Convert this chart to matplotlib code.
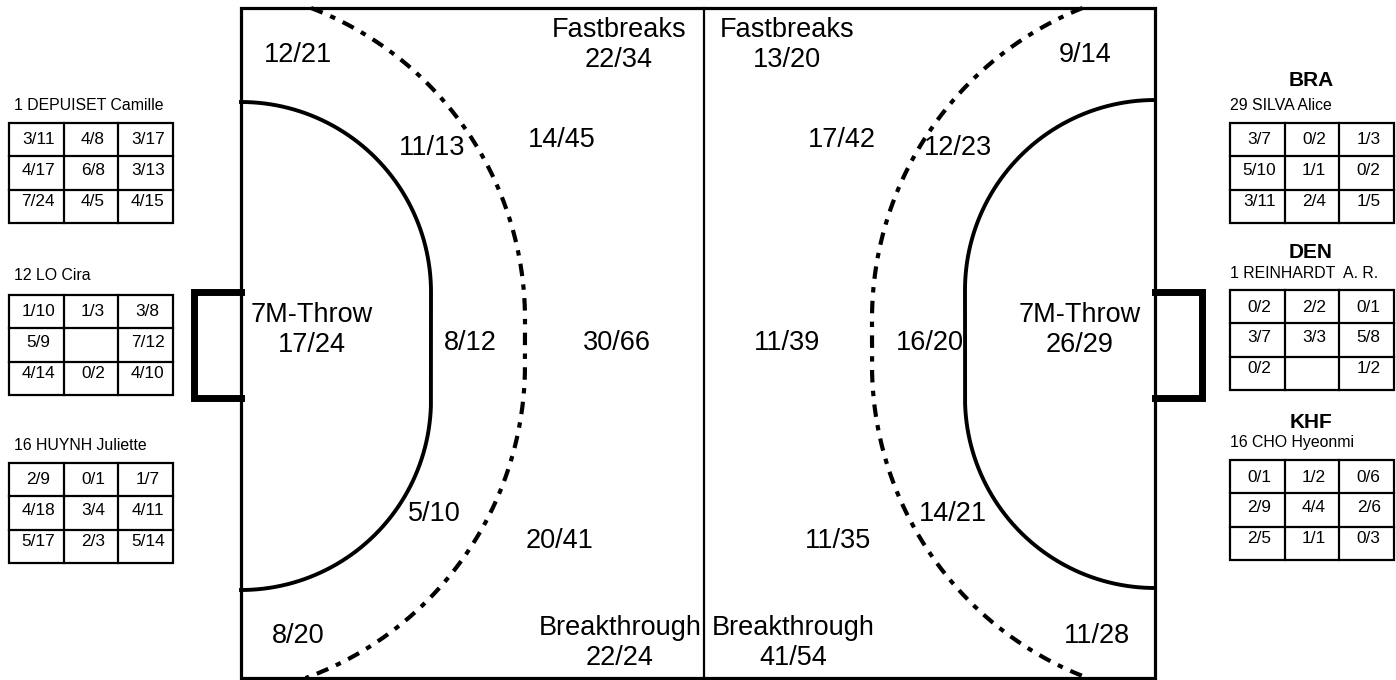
import numpy as np
import matplotlib
matplotlib.use("Agg")
import matplotlib.pyplot as plt
from matplotlib.patches import Rectangle

plt.rcParams['font.family'] = ['Liberation Sans', 'DejaVu Sans']

# ---------------- data ----------------
left_players = ["1 DEPUISET Camille", "12 LO Cira", "16 HUYNH Juliette"]
left_grid_1 = [["3/11", "4/8", "3/17"], ["4/17", "6/8", "3/13"], ["7/24", "4/5", "4/15"]]
left_grid_2 = [["1/10", "1/3", "3/8"], ["5/9", "", "7/12"], ["4/14", "0/2", "4/10"]]
left_grid_3 = [["2/9", "0/1", "1/7"], ["4/18", "3/4", "4/11"], ["5/17", "2/3", "5/14"]]

right_teams = ["BRA", "DEN", "KHF"]
right_players = ["29 SILVA Alice", "1 REINHARDT  A. R.", "16 CHO Hyeonmi"]
right_grid_1 = [["3/7", "0/2", "1/3"], ["5/10", "1/1", "0/2"], ["3/11", "2/4", "1/5"]]
right_grid_2 = [["0/2", "2/2", "0/1"], ["3/7", "3/3", "5/8"], ["0/2", "", "1/2"]]
right_grid_3 = [["0/1", "1/2", "0/6"], ["2/9", "4/4", "2/6"], ["2/5", "1/1", "0/3"]]

left_zone_titles = ["", "Fastbreaks", "", "", "7M-Throw", "", "", "", "", "", "Breakthrough"]
left_zone_values = ["12/21", "22/34", "11/13", "14/45", "17/24", "8/12", "30/66", "5/10", "20/41", "8/20", "22/24"]
right_zone_titles = ["Fastbreaks", "", "", "", "7M-Throw", "", "", "", "", "Breakthrough", ""]
right_zone_values = ["13/20", "9/14", "17/42", "12/23", "26/29", "11/39", "16/20", "14/21", "11/35", "41/54", "11/28"]

# ---------------- layout (pixel coords) ----------------
W, H = 1396, 680
left_zone_pos = [(298, 55), (619, 45), (432, 148), (562, 140), (312, 330), (470, 343), (617, 343),
                 (434, 514), (560, 541), (298, 636), (620, 643)]
right_zone_pos = [(787, 45), (1085, 55), (842, 140), (958, 148), (1080, 330), (787, 343), (930, 343),
                  (953, 514), (838, 541), (793, 643), (1097, 636)]

fig = plt.figure(figsize=(W / 100, H / 100), dpi=100)
ax = fig.add_axes([0, 0, 1, 1])
ax.set_xlim(0, W)
ax.set_ylim(H, 0)
ax.axis('off')

XL, XR, YT, YB, XC = 241, 1155, 8, 678, 704

# court outline + centre line
ax.add_patch(Rectangle((XL, YT), XR - XL, YB - YT, fill=False, lw=2.3, ec='black', zorder=3))
ax.plot([XC, XC], [YT, YB], color='black', lw=1.6, zorder=3)

# goals
gy0, gy1, gdepth = 292, 398, 47
ax.plot([XL, XL - gdepth, XL - gdepth, XL], [gy0, gy0, gy1, gy1], color='black', lw=5,
        solid_joinstyle='miter', zorder=3)
ax.plot([XR, XR + gdepth, XR + gdepth, XR], [gy0, gy0, gy1, gy1], color='black', lw=5,
        solid_joinstyle='miter', zorder=3)


def d_line(cx, cy_top, cy_bot, r, direction):
    """Quarter circles joined by a straight segment, clipped to court."""
    t0 = np.arccos(min(1.0, (cy_top - YT) / r)) if (cy_top - r) < YT else 0.0
    t1 = np.arccos(min(1.0, (YB - cy_bot) / r)) if (cy_bot + r) > YB else 0.0
    ta = np.linspace(t0, np.pi / 2, 200)
    xa = cx + direction * r * np.sin(ta)
    ya = cy_top - r * np.cos(ta)
    tb = np.linspace(0, np.pi / 2 - t1, 200)
    xb = cx + direction * r * np.cos(tb)
    yb = cy_bot + r * np.sin(tb)
    return np.concatenate([xa, xb]), np.concatenate([ya, yb])


# 6m lines (solid)
x6, y6 = d_line(XL, 292, 400, 190, 1)
ax.plot(x6, y6, color='black', lw=2.8, zorder=3)
x6, y6 = d_line(XR, 290, 398, 190, -1)
ax.plot(x6, y6, color='black', lw=2.8, zorder=3)

# 9m lines (dash-dot)
x9, y9 = d_line(XL - 49, 319, 365, 333, 1)
ax.plot(x9, y9, color='black', lw=3.0, linestyle=(0, (3.0, 2.0, 1.3, 2.0)), zorder=3)
x9, y9 = d_line(XR + 52, 319, 365, 335, -1)
ax.plot(x9, y9, color='black', lw=3.0, linestyle=(0, (3.0, 2.0, 1.3, 2.0)), zorder=3)

# zone labels
FS = 19.5
for titles, vals, pos in [(left_zone_titles, left_zone_values, left_zone_pos),
                          (right_zone_titles, right_zone_values, right_zone_pos)]:
    for t, v, (x, y) in zip(titles, vals, pos):
        s = v if t == "" else t + "\n" + v
        ax.text(x, y, s, ha='center', va='center', fontsize=FS, linespacing=1.18, zorder=4)


def draw_table(x0, y0, grid, cw=54.7, rh=33.3):
    nrow, ncol = len(grid), len(grid[0])
    ax.add_patch(Rectangle((x0, y0), cw * ncol, rh * nrow, fill=False, lw=1.6, ec='black', zorder=3))
    for i in range(1, nrow):
        ax.plot([x0, x0 + cw * ncol], [y0 + rh * i] * 2, color='black', lw=1.6, zorder=3)
    for j in range(1, ncol):
        ax.plot([x0 + cw * j] * 2, [y0, y0 + rh * nrow], color='black', lw=1.6, zorder=3)
    for i, row in enumerate(grid):
        for j, val in enumerate(row):
            ax.text(x0 + cw * (j + 0.5) + 2, y0 + rh * i + 17 - 2.5 * i, val, ha='center', va='center',
                    fontsize=12.4, zorder=4)


left_grids = [left_grid_1, left_grid_2, left_grid_3]
left_name_y = [105, 275, 445]
left_table_y = [123, 295, 463]
for name, grid, ny, ty in zip(left_players, left_grids, left_name_y, left_table_y):
    ax.text(14, ny, name, ha='left', va='center', fontsize=11.4)
    draw_table(9, ty, grid)

right_grids = [right_grid_1, right_grid_2, right_grid_3]
right_team_y = [81, 252, 422]
right_name_y = [105, 273, 443]
right_table_y = [123, 290, 460]
for team, name, grid, ty_, ny, tby in zip(right_teams, right_players, right_grids,
                                          right_team_y, right_name_y, right_table_y):
    ax.text(1311, ty_, team, ha='center', va='center', fontsize=15, fontweight='bold')
    ax.text(1230, ny, name, ha='left', va='center', fontsize=11.4)
    draw_table(1230, tby, grid)

fig.savefig("out.png", dpi=100)
